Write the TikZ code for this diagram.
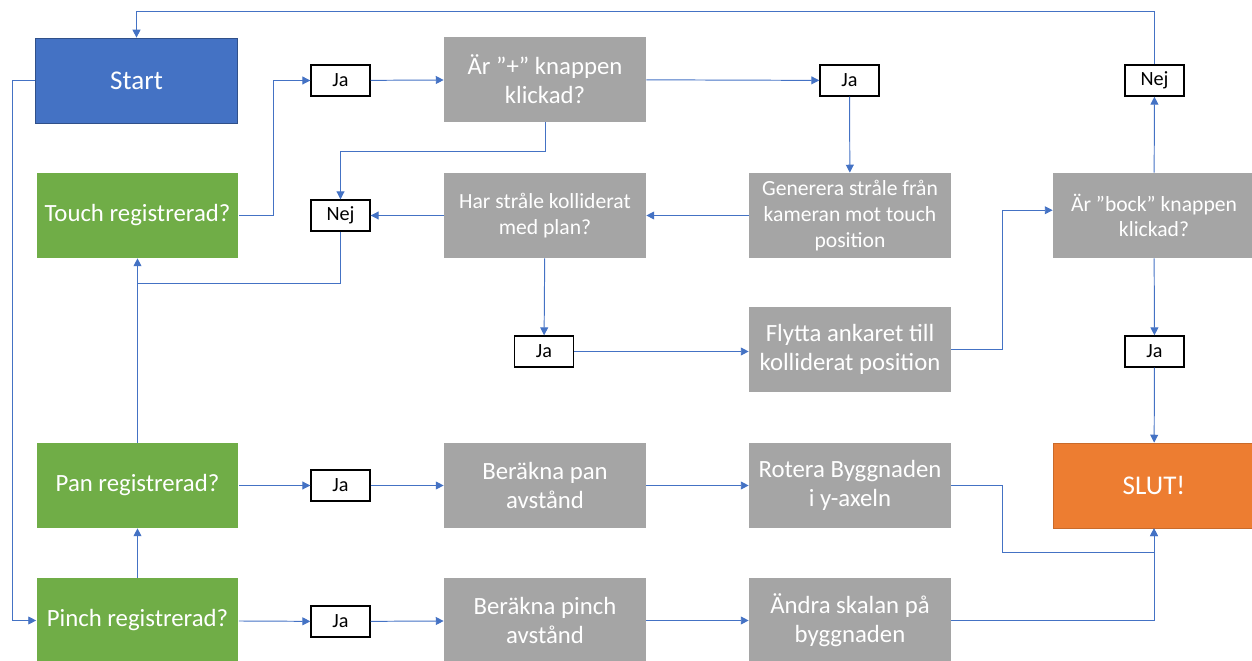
\documentclass[tikz,border=0pt]{standalone}
\usepackage{fontspec}
\setmainfont{Carlito}
\usetikzlibrary{arrows.meta}
\definecolor{flowblue}{HTML}{4472C4}
\definecolor{flowgreen}{HTML}{70AD47}
\definecolor{flowgray}{HTML}{A5A5A5}
\definecolor{floworange}{HTML}{ED7D31}
\begin{document}
\begin{tikzpicture}[x=0.02cm, y=-0.02cm, >={Triangle[length=4.5pt,width=4.5pt]},
  box/.style={rectangle, minimum width=4.04cm, minimum height=1.7cm, align=center, text=white, inner sep=0pt, font=\fontsize{14.1}{16.6}\selectfont},
  smallbox/.style={box, font=\fontsize{12.3}{14.7}\selectfont},
  endbox/.style={box, font=\fontsize{15.4}{18}\selectfont},
  answer/.style={draw=black, line width=0.8pt, fill=white, rectangle, minimum width=1.18cm, minimum height=0.62cm, inner sep=0pt, font=\fontsize{11.5}{13}\selectfont},
  conn/.style={draw=flowblue, line width=0.55pt}]
\useasboundingbox (0,0) rectangle (1252,661);
\node[endbox, fill=flowblue, draw=flowblue!70!black] (start) at (136.5,80.5) {Start};
\node[box, fill=flowgreen] (touch) at (137.5,215.5) {Touch registrerad?};
\node[box, fill=flowgreen] (pan) at (137.5,485.5) {Pan registrerad?};
\node[box, fill=flowgreen] (pinch) at (137.5,620.5) {Pinch registrerad?};
\node[box, fill=flowgray] (plus) at (545,79.5) {Är ”+” knappen\\klickad?};
\node[smallbox, fill=flowgray] (har) at (545,215.5) {Har stråle kolliderat\\med plan?};
\node[smallbox, fill=flowgray] (gen) at (850,215.5) {Generera stråle från\\kameran mot touch\\position};
\node[box, fill=flowgray] (flytta) at (850,349.5) {Flytta ankaret till\\kolliderat position};
\node[smallbox, fill=flowgray] (bock) at (1154,215.5) {Är ”bock” knappen\\klickad?};
\node[endbox, fill=floworange, draw=floworange!85!black] (slut) at (1154,485.5) {SLUT!};
\node[box, fill=flowgray] (bpan) at (545,485.5) {Beräkna pan\\avstånd};
\node[box, fill=flowgray] (rot) at (850,485.5) {Rotera Byggnaden\\i y-axeln};
\node[box, fill=flowgray] (bpinch) at (545,620.5) {Beräkna pinch\\avstånd};
\node[box, fill=flowgray] (andra) at (850,620.5) {Ändra skalan på\\byggnaden};
\node[answer] (ja1) at (340.5,80.5) {Ja};
\node[answer] (ja2) at (849.5,80.5) {Ja};
\node[answer] (nej1) at (340.5,215.5) {Nej};
\node[answer] (ja3) at (544,351.5) {Ja};
\node[answer] (nej2) at (1154.5,80.5) {Nej};
\node[answer] (ja4) at (1154.5,351.5) {Ja};
\node[answer] (ja5) at (340.5,485.5) {Ja};
\node[answer] (ja6) at (340.5,621.5) {Ja};
\coordinate (join) at (137.5,283);
% left column
\draw[conn, ->] (start.west) -- ++(-23,0) |- (pinch.west);
\draw[conn, ->] (pinch) -- (pan);
\draw[conn, ->] (pan) -- (touch);
% touch branch
\draw[conn, ->] (touch.east) -- ++(35,0) |- (ja1.west);
\draw[conn, ->] (ja1) -- (plus);
\draw[conn, ->] (plus) -- (ja2);
\draw[conn, ->] (ja2) -- (gen);
\draw[conn, ->] (gen) -- (har);
\draw[conn, ->] (har) -- (nej1);
\draw[conn, ->] (plus.south) -- ++(0,29) -| (nej1.north);
\draw[conn] (nej1.south) |- (join);
\draw[conn, ->] (har) -- (ja3);
\draw[conn, ->] (ja3) -- (ja3 -| flytta.west);
\draw[conn, ->] (flytta.east) -- ++(51,0) |- ([yshift=3pt]bock.west);
\draw[conn, ->] (bock) -- (nej2);
\draw[conn, ->] (nej2.north) -- ++(0,-53) -| (start.north);
\draw[conn, ->] (bock) -- (ja4);
\draw[conn, ->] (ja4) -- (slut);
% pan and pinch
\draw[conn, ->] (pan) -- (ja5);
\draw[conn, ->] (ja5) -- (bpan);
\draw[conn, ->] (bpan) -- (rot);
\draw[conn, ->] (rot.east) -- ++(51,0) -- ++(0,67) -| (slut.south);
\draw[conn, ->] (pinch) -- (ja6);
\draw[conn, ->] (ja6) -- (bpinch);
\draw[conn, ->] (bpinch) -- (andra);
\draw[conn, ->] (andra.east) -| (slut.south);
\end{tikzpicture}
\end{document}
